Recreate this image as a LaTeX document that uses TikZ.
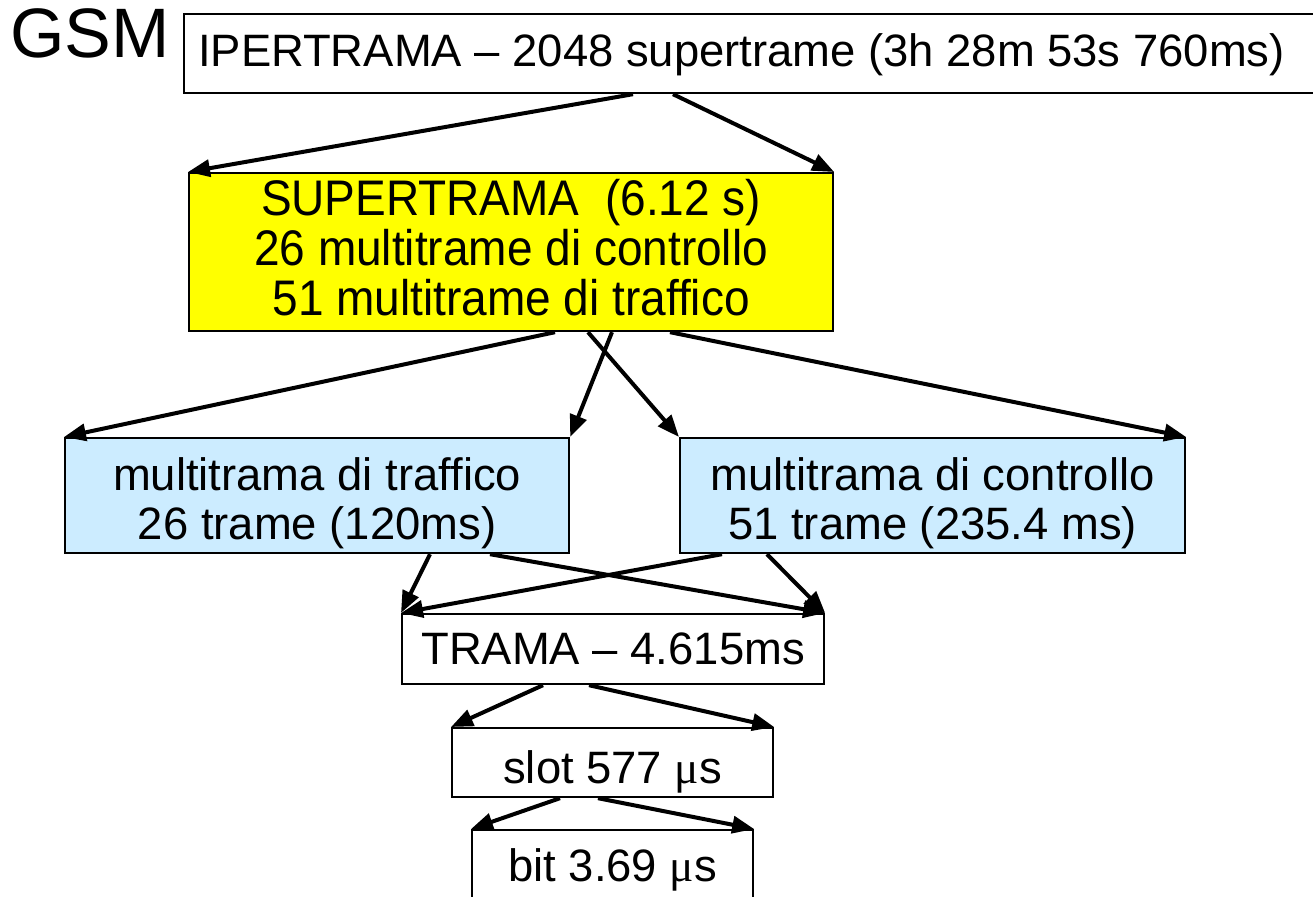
\documentclass[tikz,border=0pt]{standalone}
\usepackage{fontspec}
\setmainfont{Liberation Sans}
\newfontfamily\muserif{Liberation Serif}
\usetikzlibrary{arrows.meta,calc}
\definecolor{lblue}{HTML}{CCECFF}
\definecolor{pyellow}{HTML}{FFFF00}
\newcommand{\mymu}{{\muserif μ}}
\begin{document}
\begin{tikzpicture}[x=0.5pt,y=-0.5pt,
  box/.style={draw=black,line width=1.1pt,inner sep=0pt,anchor=north west,font=\fontsize{22.7}{24.5}\selectfont},
  ybox/.style={box,fill=pyellow,font=\fontsize{25}{23.7}\selectfont},
  bbox/.style={box,fill=lblue},
  arr/.style={line width=2pt,-{Triangle[length=11pt,width=8.5pt]}},
]
\useasboundingbox (0,0) rectangle (1313,897);
\node[anchor=base west,inner sep=0pt,font=\fontsize{35}{40}\selectfont] (gsm) at (10,58) {GSM};
\node[box,inner xsep=7pt,text height=26pt,text depth=13.5pt] (iper) at (183,13)
  {\makebox[565pt][l]{IPERTRAMA – 2048 supertrame (3h 28m 53s 760ms)}};
\node[ybox,minimum width=322pt,text height=21pt,text depth=58pt] (super) at (188,172)
  {\scalebox{0.92}[1]{\begin{tabular}[t]{@{}c@{}}SUPERTRAMA\ \ (6.12 s)\\26 multitrame di controllo\\51 multitrame di traffico\end{tabular}}};
\node[bbox,minimum width=252pt,text height=26pt,text depth=31.5pt] (mtraf) at (64,437)
  {\begin{tabular}[t]{@{}c@{}}multitrama di traffico\\26 trame (120ms)\end{tabular}};
\node[bbox,minimum width=252.5pt,text height=26pt,text depth=31.5pt] (mctrl) at (679,437)
  {\begin{tabular}[t]{@{}c@{}}multitrama di controllo\\51 trame (235.4 ms)\end{tabular}};
\node[box,minimum width=211pt,text height=25pt,text depth=10pt] (trama) at (401,613) {TRAMA – 4.615ms};
\node[box,minimum width=160.5pt,text height=27.5pt,text depth=7pt] (slot) at (451,727) {slot 577 \mymu s};
\node[box,minimum width=140.5pt,text height=25.5pt,text depth=30pt] (bit) at (471,829) {bit 3.69 \mymu s};
% arrows
\draw[arr] ($(iper.south west)+(450,0)$) -- (super.north west);
\draw[arr] ($(iper.south west)+(490,0)$) -- (super.north east);
\draw[arr] ($(super.south west)+(367,0)$) -- (mtraf.north west);
\draw[arr] ($(super.south west)+(424,0)$) -- (mtraf.north east);
\draw[arr] ($(super.south west)+(400,0)$) -- (mctrl.north west);
\draw[arr] ($(super.south west)+(482,0)$) -- (mctrl.north east);
\draw[arr] ($(mtraf.south west)+(366,0)$) -- (trama.north west);
\draw[arr] ($(mtraf.south west)+(426,0)$) -- (trama.north east);
\draw[arr] ($(mctrl.south west)+(43,0)$) -- (trama.north west);
\draw[arr] ($(mctrl.south west)+(88,0)$) -- (trama.north east);
\draw[arr] ($(trama.south west)+(142,0)$) -- (slot.north west);
\draw[arr] ($(trama.south west)+(188,0)$) -- (slot.north east);
\draw[arr] ($(slot.south west)+(109,0)$) -- (bit.north west);
\draw[arr] ($(slot.south west)+(147,0)$) -- (bit.north east);
\end{tikzpicture}
\end{document}
